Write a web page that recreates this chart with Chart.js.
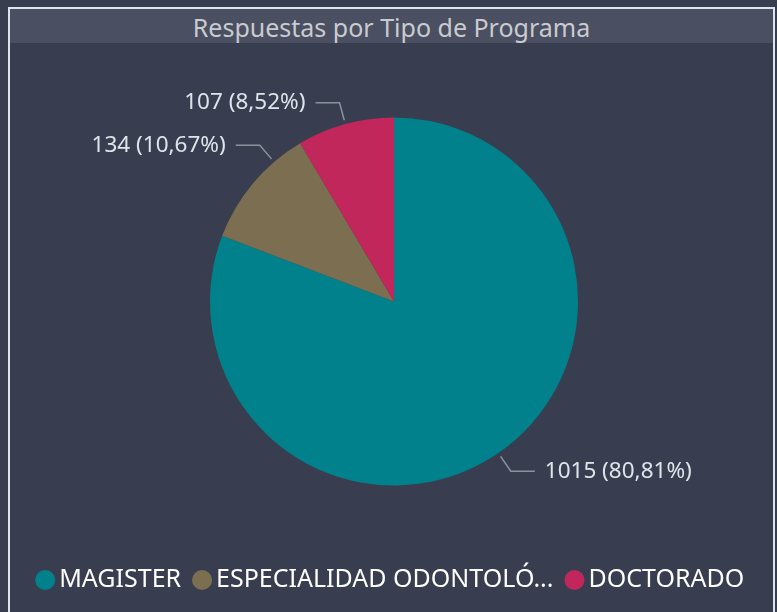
<!DOCTYPE html>
<html>
<head>
<meta charset="utf-8">
<script src="https://cdn.jsdelivr.net/npm/chart.js@4"></script>
<style>
  html, body { margin: 0; padding: 0; background: #383e50; width: 777px; height: 612px; overflow: hidden; }
  .frame {
    position: absolute; left: 8px; top: 7px; width: 763px; height: 620px;
    border: 2px solid #dde4ee; box-sizing: content-box;
  }
  .title-bar {
    position: absolute; left: 10px; top: 9px; width: 763px; height: 34px;
    background: #4a5061; color: #c9cbd0;
    font-family: "Noto Sans", sans-serif; font-size: 25px; line-height: 36px;
    text-align: center;
  }
  #wrap { position: absolute; left: 0; top: 0; width: 777px; height: 612px; }
</style>
</head>
<body>
<div class="frame"></div>
<div class="title-bar">Respuestas por Tipo de Programa</div>
<div id="wrap"><canvas id="pieChart"></canvas></div>
<script>
// Chart Data
const categories = ['MAGISTER', 'ESPECIALIDAD ODONTOLÓGICA', 'DOCTORADO'];
const responses = [1015, 134, 107];
const percentLabels = ['80,81%', '10,67%', '8,52%'];
const sliceColors = ['#01818b', '#7b6e51', '#c2275c'];

// where along each slice the leader line starts (0 = start, 1 = end)
const labelAnchor = [0.5, 0.74, 0.5];

// Leader lines + value labels like the original
const sliceLabels = {
    id: 'sliceLabels',
    afterDatasetsDraw(chart) {
        const ctx = chart.ctx;
        const arcs = chart.getDatasetMeta(0).data;
        ctx.save();
        ctx.font = '22.5px "Noto Sans", sans-serif';
        ctx.textBaseline = 'middle';
        arcs.forEach((arc, i) => {
            const a = arc.startAngle + (arc.endAngle - arc.startAngle) * labelAnchor[i];
            const r = arc.outerRadius;
            const p0x = arc.x + Math.cos(a) * (r + 4);
            const p0y = arc.y + Math.sin(a) * (r + 4);
            const p1x = arc.x + Math.cos(a) * (r + 22);
            const p1y = arc.y + Math.sin(a) * (r + 22);
            const right = Math.cos(a) >= 0;
            const p2x = p1x + (right ? 24 : -24);
            ctx.strokeStyle = '#8c919c';
            ctx.lineWidth = 1.5;
            ctx.beginPath();
            ctx.moveTo(p0x, p0y);
            ctx.lineTo(p1x, p1y);
            ctx.lineTo(p2x, p1y);
            ctx.stroke();
            ctx.fillStyle = '#dfe3ea';
            ctx.textAlign = right ? 'left' : 'right';
            const text = responses[i] + ' (' + percentLabels[i] + ')';
            ctx.fillText(text, p2x + (right ? 10 : -10), p1y);
        });
        ctx.restore();
    }
};

const pieChart = new Chart(document.getElementById('pieChart'), {
    type: 'pie',
    data: {
        labels: categories,
        datasets: [{
            data: responses,
            backgroundColor: sliceColors,
            borderWidth: 0,
            radius: 184
        }]
    },
    options: {
        responsive: true,
        maintainAspectRatio: false,
        animation: false,
        layout: { padding: { top: 55, left: 11, right: 0, bottom: 9.5 } },
        plugins: {
            tooltip: { enabled: false },
            legend: {
                position: 'bottom',
                labels: {
                    color: '#ffffff',
                    font: { family: '"Noto Sans", sans-serif', size: 25 },
                    usePointStyle: true,
                    pointStyle: 'circle',
                    boxWidth: 3,
                    boxHeight: 14.2,
                    padding: 19.5,
                    generateLabels(chart) {
                        return categories.map((name, i) => ({
                            text: name.length > 21 ? name.slice(0, 21) + '...' : name,
                            fillStyle: sliceColors[i],
                            strokeStyle: sliceColors[i],
                            lineWidth: 0,
                            fontColor: '#ffffff',
                            pointStyle: 'circle',
                            index: i
                        }));
                    }
                }
            }
        }
    },
    plugins: [sliceLabels]
});
</script>
</body>
</html>
